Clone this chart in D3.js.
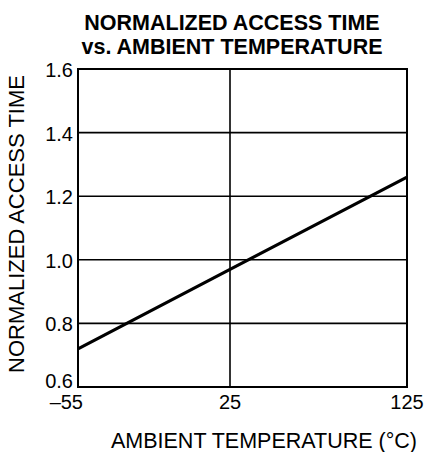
<!DOCTYPE html>
<html>
<head>
<meta charset="utf-8">
<script src="https://cdn.jsdelivr.net/npm/d3@7"></script>
<style>
  body { margin: 0; background: #fff; }
  text { font-family: "Liberation Sans", Arial, sans-serif; fill: #000; }
</style>
</head>
<body>
<script>
// Normalized access time vs ambient temperature
var temps       = [-55, 25, 125];
var access_time = [0.72, 0.97, 1.26];
var x_ticks     = [-55, 25, 125];
var x_labels    = ["\u201355", "25", "125"];
var y_ticks     = [0.6, 0.8, 1.0, 1.2, 1.4, 1.6];

var width  = 427;
var height = 452;
var plot_left = 78, plot_right = 407, plot_top = 69, plot_bottom = 387;

var svg = d3.select("body").append("svg")
    .attr("width", width)
    .attr("height", height);

// the 25 gridline sits a bit right of a linear position in the original
var x = d3.scaleLinear().domain([-55, 25, 125]).range([plot_left, 230, plot_right]);
var y = d3.scaleLinear().domain([0.6, 1.6]).range([plot_bottom, plot_top]);

// grid
svg.selectAll(".hgrid")
    .data(y_ticks.slice(1, -1))
    .enter().append("line")
    .attr("x1", plot_left).attr("x2", plot_right)
    .attr("y1", function (d) { return y(d); })
    .attr("y2", function (d) { return y(d); })
    .attr("stroke", "#000").attr("stroke-width", 1.6);

svg.append("line")
    .attr("x1", x(25)).attr("x2", x(25))
    .attr("y1", plot_top).attr("y2", plot_bottom)
    .attr("stroke", "#000").attr("stroke-width", 1.6);

// frame
svg.append("rect")
    .attr("x", plot_left).attr("y", plot_top)
    .attr("width", plot_right - plot_left).attr("height", plot_bottom - plot_top)
    .attr("fill", "none").attr("stroke", "#000").attr("stroke-width", 2);

// data line
var pts = temps.map(function (t, i) { return [t, access_time[i]]; });
svg.append("path")
    .datum(pts)
    .attr("fill", "none")
    .attr("stroke", "#000")
    .attr("stroke-width", 3.2)
    .attr("d", d3.line()
        .x(function (d) { return x(d[0]); })
        .y(function (d) { return y(d[1]); }));

// tick labels (0.6 is lifted so it clears the -55 label)
svg.selectAll(".ylab")
    .data(y_ticks)
    .enter().append("text")
    .attr("x", plot_left - 5)
    .attr("y", function (d, i) { return i == 0 ? y(d) + 1 : y(d) + 8; })
    .attr("text-anchor", "end")
    .attr("font-size", 20)
    .text(function (d) { return d.toFixed(1); });

svg.selectAll(".xlab")
    .data(x_ticks)
    .enter().append("text")
    .attr("x", function (d) { return x(d); })
    .attr("y", plot_bottom + 22)
    .attr("text-anchor", function (d, i) { return i == 0 ? "end" : "middle"; })
    .attr("dx", function (d, i) { return i == 0 ? 5 : 0; })
    .attr("font-size", 20)
    .text(function (d, i) { return x_labels[i]; });

// titles
svg.append("text")
    .attr("x", 232).attr("y", 30)
    .attr("text-anchor", "middle")
    .attr("font-size", 21.5).attr("font-weight", "bold")
    .text("NORMALIZED ACCESS TIME");
svg.append("text")
    .attr("x", 232).attr("y", 54)
    .attr("text-anchor", "middle")
    .attr("font-size", 21.5).attr("font-weight", "bold")
    .text("vs. AMBIENT TEMPERATURE");

svg.append("text")
    .attr("x", 264).attr("y", 448)
    .attr("text-anchor", "middle")
    .attr("font-size", 21.5)
    .text("AMBIENT TEMPERATURE (\u00B0C)");

svg.append("text")
    .attr("transform", "translate(24,224) rotate(-90)")
    .attr("text-anchor", "middle")
    .attr("font-size", 22)
    .text("NORMALIZED ACCESS TIME");
</script>
</body>
</html>
